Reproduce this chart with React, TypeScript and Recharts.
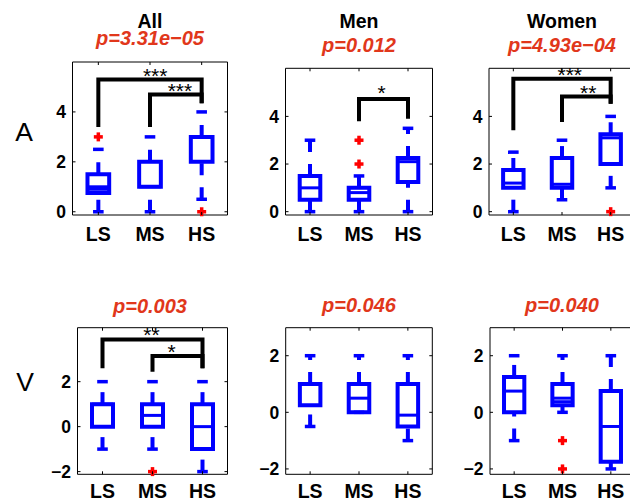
import React from 'react';
import { ComposedChart, XAxis, YAxis, ReferenceArea, ReferenceLine, Scatter, Line } from 'recharts';

const groups = ['LS', 'MS', 'HS'];
const colTitles = ['All', 'Men', 'Women'];
const pTop = ['p=3.31e\u221205', 'p=0.012', 'p=4.93e\u221204'];
const pBottom = ['p=0.003', 'p=0.046', 'p=0.040'];
const rowLabels = ['A', 'V'];

// box stats per group: [lower adjacent, q1, median, q3, upper adjacent]
const allA = [[0, 0.75, 1.0, 1.5, 2.5], [0, 1.0, 1.0, 2.0, 3.0], [0.5, 2.0, 3.0, 3.0, 4.0]];
const menA = [[0, 0.5, 1.0, 1.5, 3.0], [0, 0.5, 0.8, 1.0, 1.5], [0, 1.25, 2.1, 2.25, 3.5]];
const womenA = [[0, 1.0, 1.2, 1.75, 2.5], [0.5, 1.0, 1.15, 2.25, 3.0], [1.0, 2.0, 3.1, 3.25, 4.0]];
const allV = [[-1, 0, 1.0, 1.0, 2.0], [-1, 0, 0.5, 1.0, 2.0], [-2, -1, 0, 1.0, 2.0]];
const menV = [[-0.5, 0.25, 1.0, 1.0, 2.0], [0, 0, 0.5, 1.0, 2.0], [-1, -0.5, -0.1, 1.0, 2.0]];
const womenV = [[-1, 0, 0.75, 1.25, 2.0], [0, 0.25, 0.5, 1.0, 2.0], [-2, -1.75, -0.5, 0.75, 2.0]];

// outliers: [group, value]
const allAOut = [[1, 3], [3, 0]];
const menAOut = [[2, 3], [2, 2]];
const womenAOut = [[3, 0]];
const allVOut = [[2, -2]];
const menVOut: number[][] = [];
const womenVOut = [[2, -1], [2, -2]];

// second line drawn inside some boxes: [group, value]
const allAExtra = [[1, 0.9]];
const womenVExtra = [[2, 0.375]];

type Bracket = [number, number, number, number, number, string, number, number];
// significance brackets: [from, to, top, left foot, right foot, stars, star x, star y]
const allABr: Bracket[] = [
  [1, 3, 5.3, 3.4, 4.35, '***', 2.1, 5.63],
  [2, 3, 4.7, 3.4, 4.35, '***', 2.58, 5.03],
];
const menABr: Bracket[] = [
  [2, 3, 4.73, 3.8, 3.9, '*', 2.46, 5.18],
];
const womenABr: Bracket[] = [
  [1, 3, 5.58, 3.42, 4.53, '***', 2.16, 5.95],
  [2, 3, 4.84, 3.77, 4.53, '**', 2.54, 5.21],
];
const allVBr: Bracket[] = [
  [1, 3, 3.88, 2.6, 2.6, '**', 1.98, 4.3],
  [2, 3, 3.14, 2.44, 2.6, '*', 2.38, 3.56],
];

const W = 640;
const H = 503;
const BLUE = '#0000ff';
const RED = '#ff0000';
const PCOL = '#e1371b';
const FONT = '"Liberation Sans", Arial, Helvetica, sans-serif';

interface Frame {
  L: number; R: number; T: number; B: number;
  yMin: number; yMax: number; yTicks: number[]; labelY: number;
}

const frames: Record<string, Frame> = {
  allA: { L: 72.5, R: 227.5, T: 62, B: 215, yMin: -0.13, yMax: 6, yTicks: [0, 2, 4], labelY: 240.5 },
  menA: { L: 285.5, R: 432.5, T: 68.3, B: 215, yMin: -0.14, yMax: 6.02, yTicks: [0, 2, 4], labelY: 240.5 },
  womenA: { L: 489, R: 635, T: 68.3, B: 215, yMin: -0.14, yMax: 6.02, yTicks: [0, 2, 4], labelY: 240.5 },
  allV: { L: 77.5, R: 227.5, T: 327.7, B: 474.3, yMin: -2.12, yMax: 4.4, yTicks: [-2, 0, 2], labelY: 498 },
  menV: { L: 285.7, R: 432.3, T: 327.7, B: 474.3, yMin: -2.19, yMax: 2.99, yTicks: [-2, 0, 2], labelY: 498 },
  womenV: { L: 490, R: 635, T: 327.7, B: 474.3, yMin: -2.19, yMax: 2.99, yTicks: [-2, 0, 2], labelY: 498 },
};

const fmt = (v: number) => (v < 0 ? '\u2212' + Math.abs(v) : String(v));

interface PanelProps {
  f: Frame;
  box: number[][];
  out: number[][];
  extra?: number[][];
  br?: Bracket[];
}

function Panel({ f, box, out, extra = [], br = [] }: PanelProps) {
  const yW = 40;
  const xH = 30;
  const half = 0.21;

  const xTick = (p: any) => {
    const x = p.x;
    return (
      <g>
        <line x1={x} x2={x} y1={f.T} y2={f.T + 3} stroke="#000" strokeWidth={1} />
        <line x1={x} x2={x} y1={f.B} y2={f.B - 3} stroke="#000" strokeWidth={1} />
        <text x={x} y={f.labelY} textAnchor="middle" fontFamily={FONT} fontWeight="bold" fontSize={19.5} fill="#000">
          {groups[p.payload.value - 1]}
        </text>
      </g>
    );
  };

  const yTick = (p: any) => {
    const y = p.y;
    return (
      <g>
        <line x1={f.L} x2={f.L + 3} y1={y} y2={y} stroke="#000" strokeWidth={1} />
        <line x1={f.R} x2={f.R - 3} y1={y} y2={y} stroke="#000" strokeWidth={1} />
        <text x={f.L - 6.5} y={y} dy="0.36em" textAnchor="end" fontFamily={FONT} fontWeight="bold" fontSize={17.5} fill="#000">
          {fmt(p.payload.value)}
        </text>
      </g>
    );
  };

  // whisker ends (caps) at the adjacent values
  const capData = box.flatMap(([lo, , , , hi], i) => [{ x: i + 1, y: lo }, { x: i + 1, y: hi }]);
  const outData = out.map(([g, v]) => ({ x: g, y: v }));
  const starData = br.map((b) => ({ x: b[6], y: b[7], label: b[5] }));

  return (
    <div style={{ position: 'absolute', left: 0, top: 0 }}>
      <ComposedChart
        width={W}
        height={H}
        margin={{ top: f.T, left: f.L - yW, right: W - f.R, bottom: H - f.B - xH }}
      >
        <XAxis type="number" dataKey="x" domain={[0.5, 3.5]} ticks={[1, 2, 3]} height={xH}
          axisLine={false} tickLine={false} tick={xTick} interval={0} />
        <YAxis type="number" dataKey="y" domain={[f.yMin, f.yMax]} ticks={f.yTicks} width={yW}
          axisLine={false} tickLine={false} tick={yTick} interval={0} />
        <ReferenceArea x1={0.5} x2={3.5} y1={f.yMin} y2={f.yMax} fill="none" fillOpacity={0}
          stroke="#000" strokeWidth={1} ifOverflow="visible" />
        {box.map(([lo, q1, med, q3, hi], i) => {
          const g = i + 1;
          return [
            <ReferenceLine key={`lw${g}`} segment={[{ x: g, y: lo }, { x: g, y: q1 }]} stroke={BLUE}
              strokeWidth={4} strokeDasharray="12 12" ifOverflow="visible" />,
            <ReferenceLine key={`uw${g}`} segment={[{ x: g, y: q3 }, { x: g, y: hi }]} stroke={BLUE}
              strokeWidth={4} strokeDasharray="12 12" ifOverflow="visible" />,
            <ReferenceArea key={`bx${g}`} x1={g - half} x2={g + half} y1={q1} y2={q3} fill="none" fillOpacity={0}
              stroke={BLUE} strokeWidth={4} ifOverflow="visible" />,
            <ReferenceLine key={`md${g}`} segment={[{ x: g - half, y: med }, { x: g + half, y: med }]} stroke={BLUE}
              strokeWidth={3} ifOverflow="visible" />,
          ];
        })}
        {extra.map(([g, v]) => (
          <ReferenceLine key={`ex${g}`} segment={[{ x: g - half, y: v }, { x: g + half, y: v }]} stroke={BLUE}
            strokeWidth={3} ifOverflow="visible" />
        ))}
        <Scatter data={capData} isAnimationActive={false}
          shape={(p: any) => (
            <line x1={p.cx - 5.3} x2={p.cx + 5.3} y1={p.cy} y2={p.cy} stroke={BLUE} strokeWidth={3.5} />
          )} />
        {br.map((b, i) => (
          <Line key={`br${i}`} type="linear" dataKey="y" isAnimationActive={false} dot={false} activeDot={false}
            stroke="#000" strokeWidth={4} strokeLinejoin="miter"
            data={[{ x: b[0], y: b[3] }, { x: b[0], y: b[2] }, { x: b[1], y: b[2] }, { x: b[1], y: b[4] }]} />
        ))}
        <Scatter data={outData} isAnimationActive={false}
          shape={(p: any) => (
            <g>
              <line x1={p.cx - 4.5} x2={p.cx + 4.5} y1={p.cy} y2={p.cy} stroke={RED} strokeWidth={3.5} />
              <line x1={p.cx} x2={p.cx} y1={p.cy - 4.5} y2={p.cy + 4.5} stroke={RED} strokeWidth={3.5} />
            </g>
          )} />
        <Scatter data={starData} isAnimationActive={false}
          shape={(p: any) => (
            <text x={p.cx} y={p.cy + 12} textAnchor="middle" fontFamily={FONT} fontSize={21} fill="#000">
              {p.payload.label}
            </text>
          )} />
      </ComposedChart>
    </div>
  );
}

export default function App() {
  const cx = [150, 359, 562];
  const pTopY = [45, 51.7, 51.7];
  const pBotY = [313, 311.7, 311.7];
  return (
    <div style={{ position: 'absolute', left: 0, top: 0, width: 630, height: 503, overflow: 'hidden', background: '#fff' }}>
      <Panel f={frames.allA} box={allA} out={allAOut} extra={allAExtra} br={allABr} />
      <Panel f={frames.menA} box={menA} out={menAOut} br={menABr} />
      <Panel f={frames.womenA} box={womenA} out={womenAOut} br={womenABr} />
      <Panel f={frames.allV} box={allV} out={allVOut} br={allVBr} />
      <Panel f={frames.menV} box={menV} out={menVOut} />
      <Panel f={frames.womenV} box={womenV} out={womenVOut} extra={womenVExtra} />
      <svg width={630} height={503} style={{ position: 'absolute', left: 0, top: 0, pointerEvents: 'none' }}>
        {colTitles.map((t, i) => (
          <text key={t} x={cx[i]} y={28.3} textAnchor="middle" fontFamily={FONT} fontWeight="bold" fontSize={19.5} fill="#000">
            {t}
          </text>
        ))}
        {pTop.map((t, i) => (
          <text key={t} x={cx[i]} y={pTopY[i]} textAnchor="middle" fontFamily={FONT} fontWeight="bold"
            fontStyle="italic" fontSize={20} fill={PCOL}>
            {t}
          </text>
        ))}
        {pBottom.map((t, i) => (
          <text key={t} x={cx[i]} y={pBotY[i]} textAnchor="middle" fontFamily={FONT} fontWeight="bold"
            fontStyle="italic" fontSize={20} fill={PCOL}>
            {t}
          </text>
        ))}
        <text x={24} y={141} textAnchor="middle" fontFamily={FONT} fontSize={26.5} fill="#000">
          {rowLabels[0]}
        </text>
        <text x={25} y={391} textAnchor="middle" fontFamily={FONT} fontSize={26.5} fill="#000">
          {rowLabels[1]}
        </text>
      </svg>
    </div>
  );
}
